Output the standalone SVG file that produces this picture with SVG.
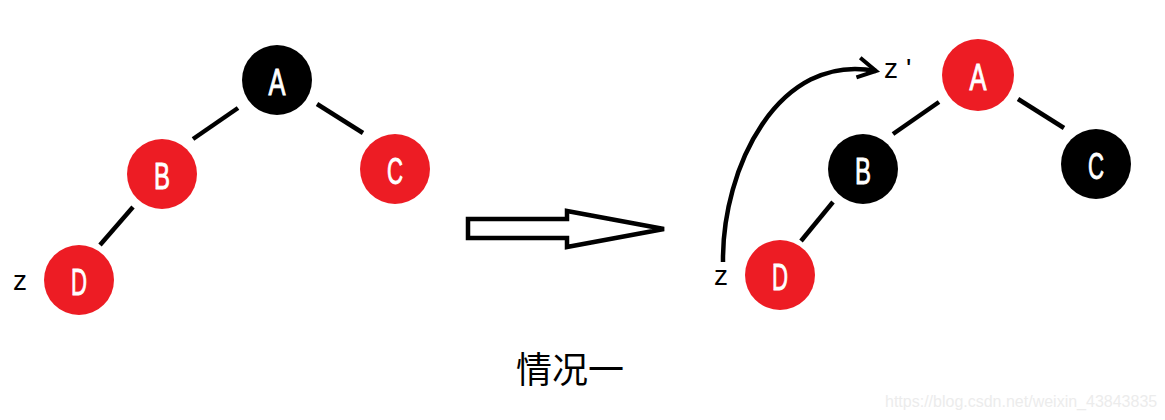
<svg xmlns="http://www.w3.org/2000/svg" width="1165" height="420" viewBox="0 0 1165 420">
  <style>
    .red{fill:#ED1C24}
    .blk{fill:#000}
    .lbl{font-family:"Liberation Sans",Arial,sans-serif;font-size:36px;fill:#fff;stroke:#fff;stroke-width:0.9;text-anchor:middle}
    .edge{stroke:#000;stroke-width:4.5;stroke-linecap:butt;fill:none}
    .z{font-family:"Liberation Sans",Arial,sans-serif;font-size:28px;fill:#000}
  </style>
  <defs>
    <marker id="chev" markerUnits="userSpaceOnUse" refX="0" refY="0" markerWidth="30" markerHeight="30" orient="auto" overflow="visible">
      <path d="M-18,-10 L0,0 L-18,10" fill="none" stroke="#000" stroke-width="4" stroke-linejoin="miter"/>
    </marker>
  </defs>
  <rect width="1165" height="420" fill="#fff"/>

  <g id="connectors">
    <line class="edge" x1="238" y1="108" x2="193" y2="139"/>
    <line class="edge" x1="317" y1="104" x2="363" y2="133"/>
    <line class="edge" x1="133" y1="207" x2="100" y2="245"/>
    <line class="edge" x1="939" y1="102" x2="893" y2="134"/>
    <line class="edge" x1="1018" y1="99" x2="1064" y2="128"/>
    <line class="edge" x1="833" y1="202" x2="801" y2="241"/>
    <path class="edge" d="M723,262 C722,168 778,52 876,71" marker-end="url(#chev)"/>
  </g>

  <g id="L-A"><circle class="blk" cx="277" cy="80" r="35"/><text class="lbl" x="277" y="95" textLength="17" lengthAdjust="spacingAndGlyphs">A</text></g>
  <g id="L-B"><circle class="red" cx="162" cy="174" r="35"/><text class="lbl" x="162" y="189" textLength="16" lengthAdjust="spacingAndGlyphs">B</text></g>
  <g id="L-C"><circle class="red" cx="395" cy="169" r="35"/><text class="lbl" x="395" y="184" textLength="16" lengthAdjust="spacingAndGlyphs">C</text></g>
  <g id="L-D"><circle class="red" cx="79" cy="280" r="35"/><text class="lbl" x="79" y="295" textLength="16" lengthAdjust="spacingAndGlyphs">D</text></g>
  <text id="L-z" class="z" x="13" y="290">z</text>

  <g id="R-A"><circle class="red" cx="978" cy="75" r="36"/><text class="lbl" x="978" y="90" textLength="17" lengthAdjust="spacingAndGlyphs">A</text></g>
  <g id="R-B"><circle class="blk" cx="863" cy="169" r="35"/><text class="lbl" x="863" y="184" textLength="16" lengthAdjust="spacingAndGlyphs">B</text></g>
  <g id="R-C"><circle class="blk" cx="1096" cy="164" r="35"/><text class="lbl" x="1096" y="179" textLength="16" lengthAdjust="spacingAndGlyphs">C</text></g>
  <g id="R-D"><circle class="red" cx="780" cy="275" r="35"/><text class="lbl" x="780" y="290" textLength="16" lengthAdjust="spacingAndGlyphs">D</text></g>
  <text id="R-z" class="z" x="714" y="285">z</text>
  <text id="R-z2" class="z" x="884" y="78" letter-spacing="8">z'</text>

  <g id="big-arrow">
    <polygon points="468,219 567,219 567,211 664,229 567,247 567,238 468,238" fill="#fff" stroke="#000" stroke-width="4.5" stroke-linejoin="miter"/>
  </g>

  <text x="516" y="383" font-family="'Noto Sans CJK SC',sans-serif" font-size="36" fill="#000">情况一</text>
  <text x="885" y="407" font-family="'Liberation Sans',Arial,sans-serif" font-size="16" fill="#ececec">https://blog.csdn.net/weixin_43843835</text>
</svg>
